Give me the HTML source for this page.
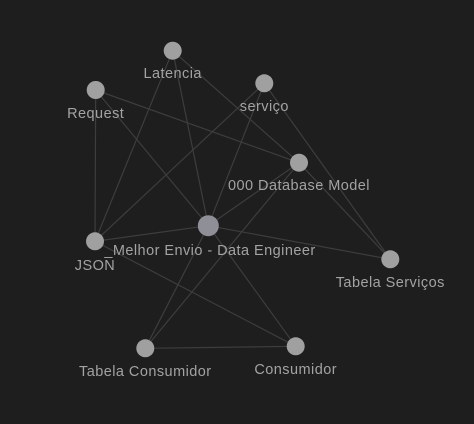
<!DOCTYPE html>
<html><head><style>
html,body{margin:0;padding:0;background:#1e1e1e;}
svg{display:block}
text{font-family:"Liberation Sans",sans-serif;font-size:14.5px;letter-spacing:0.45px;fill:#a3a3a3;text-anchor:middle}
</style></head><body>
<svg width="474" height="424" viewBox="0 0 474 424">
<rect width="474" height="424" fill="#1e1e1e"/>
<g stroke="#3d3d3d" stroke-width="1.2">
<line x1="172.7" y1="50.7" x2="95" y2="241.3"/>
<line x1="172.7" y1="50.7" x2="208.3" y2="225.7"/>
<line x1="172.7" y1="50.7" x2="299" y2="162.7"/>
<line x1="95.7" y1="90" x2="95" y2="241.3"/>
<line x1="95.7" y1="90" x2="208.3" y2="225.7"/>
<line x1="95.7" y1="90" x2="299" y2="162.7"/>
<line x1="264.3" y1="83.3" x2="95" y2="241.3"/>
<line x1="264.3" y1="83.3" x2="208.3" y2="225.7"/>
<line x1="264.3" y1="83.3" x2="390.3" y2="259.3"/>
<line x1="299" y1="162.7" x2="208.3" y2="225.7"/>
<line x1="299" y1="162.7" x2="390.3" y2="259.3"/>
<line x1="299" y1="162.7" x2="145.3" y2="348.3"/>
<line x1="208.3" y1="225.7" x2="95" y2="241.3"/>
<line x1="208.3" y1="225.7" x2="390.3" y2="259.3"/>
<line x1="208.3" y1="225.7" x2="145.3" y2="348.3"/>
<line x1="208.3" y1="225.7" x2="295.7" y2="346.3"/>
<line x1="95" y1="241.3" x2="295.7" y2="346.3"/>
<line x1="145.3" y1="348.3" x2="295.7" y2="346.3"/>
</g>
<g fill="#a0a0a0">
<circle cx="172.7" cy="50.7" r="9"/>
<circle cx="264.3" cy="83.3" r="9"/>
<circle cx="95.7" cy="90" r="9"/>
<circle cx="299" cy="162.7" r="9"/>
<circle cx="95" cy="241.3" r="9"/>
<circle cx="390.3" cy="259.3" r="9"/>
<circle cx="145.3" cy="348.3" r="9"/>
<circle cx="295.7" cy="346.3" r="9"/>
<circle cx="208.3" cy="225.7" r="10.5" fill="#8f8f98"/>
</g>
<text x="172.7" y="78">Latencia</text>
<text x="264.3" y="111">serviço</text>
<text x="95.7" y="118">Request</text>
<text x="299" y="190">000 Database Model</text>
<text x="210" y="255">_Melhor Envio - Data Engineer</text>
<text x="95" y="270">JSON</text>
<text x="390.3" y="287">Tabela Serviços</text>
<text x="145.3" y="376">Tabela Consumidor</text>
<text x="295.7" y="374">Consumidor</text>
</svg>
</body></html>
